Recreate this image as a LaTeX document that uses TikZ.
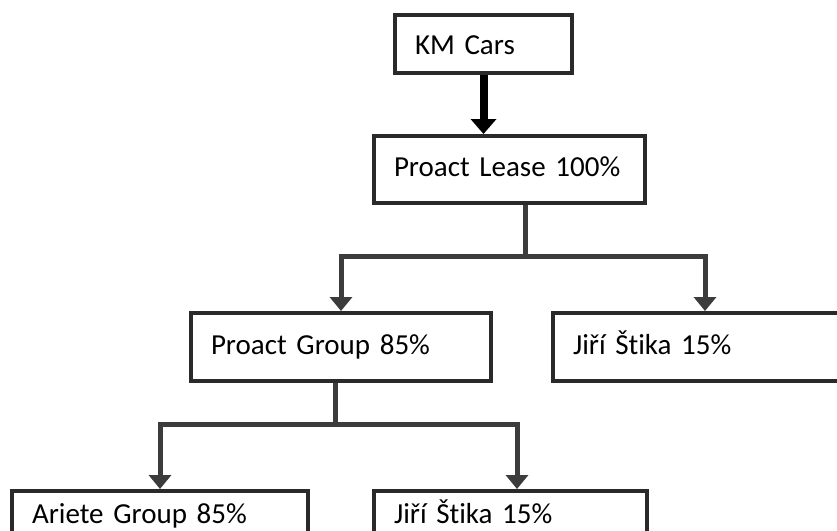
\documentclass[tikz,border=0pt]{standalone}
\usepackage{fontspec}
\setmainfont[Ligatures=NoCommon]{Carlito}
\usetikzlibrary{arrows.meta,calc}
\definecolor{boxline}{HTML}{2A2A2A}
\definecolor{connline}{HTML}{3C3C3C}
\begin{document}
\begin{tikzpicture}[x=1pt,y=-1pt,
  orgbox/.style={draw=boxline, line width=4pt, anchor=north west, inner xsep=20pt, inner ysep=0pt,
    align=left, font=\fontsize{29}{34}\selectfont, text height=20pt, text depth=6pt, fill=white},
  conn/.style={draw=connline, line width=5pt},
  branch/.style={conn, -{Triangle[width=22pt,length=14pt]}},
  bigarrow/.style={draw=black, line width=8pt, -{Triangle[width=25pt,length=15pt]}},
]
\useasboundingbox[fill=white] (0,0) rectangle (837,530);

\node[orgbox, text width=137pt, minimum height=58pt, text depth=0pt] (km) at (393,13) {KM Cars};
\node[orgbox, text width=231pt, minimum height=67pt] (lease) at (372,134) {Proact Lease 100\%};
\node[orgbox, text width=260pt, minimum height=68pt] (pg) at (189,311) {Proact Group 85\%};
\node[orgbox, text width=264pt, minimum height=68pt] (js1) at (551,311) {Jiří Štika 15\%};
\node[orgbox, text width=256pt, minimum height=50pt] (ag) at (10,489) {Ariete Group 85\%};
\node[orgbox, text width=233pt, minimum height=50pt] (js2) at (372,489) {Jiří Štika 15\%};

\coordinate (j1) at (525,256);
\coordinate (j2) at (335,424);
\coordinate (t2) at ($(js2.north west)+(145,0)$);

\draw[bigarrow] (km.south) -- (km.south |- lease.north);

\draw[conn] (lease.south -| j1) -- (j1);
\draw[branch] (j1) -| (pg.north);
\draw[branch] (j1) -| (js1.north);

\draw[conn] (pg.south -| j2) -- (j2);
\draw[branch] (j2) -| (ag.north);
\draw[branch] (j2) -| (t2);
\end{tikzpicture}
\end{document}
